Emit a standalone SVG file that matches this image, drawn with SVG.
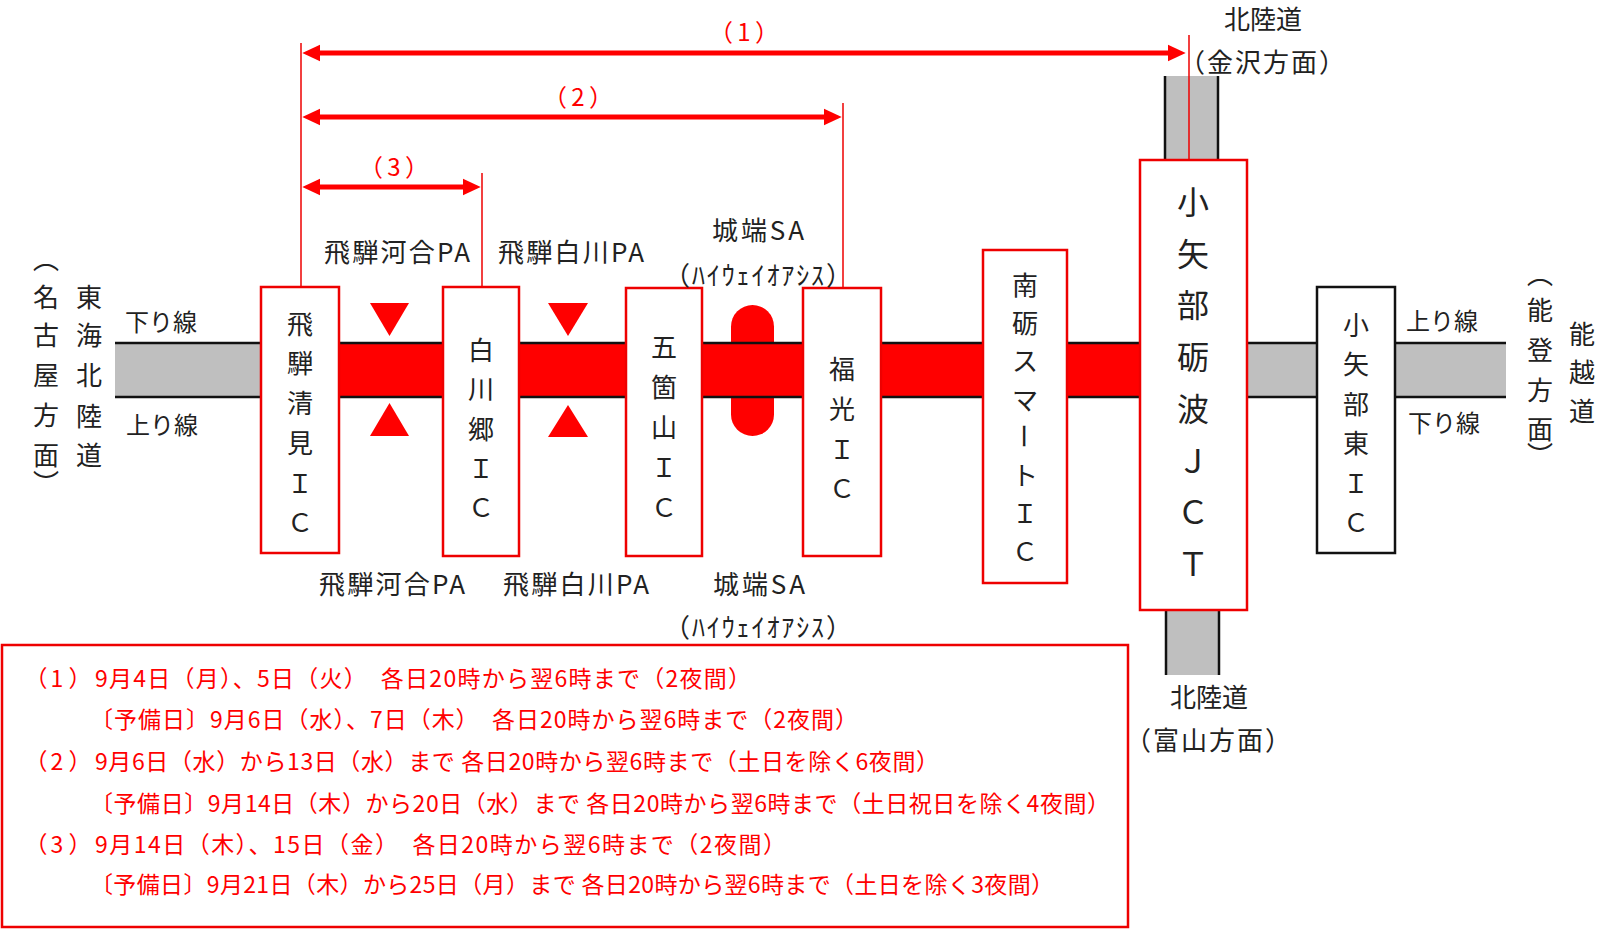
<svg xmlns="http://www.w3.org/2000/svg" width="1600" height="932" viewBox="0 0 1600 932">
<style>
text{font-family:"Noto Sans CJK JP","Noto Sans",sans-serif;fill:#222}
.v{font-size:26px;text-anchor:middle;dominant-baseline:central}
.vj{font-size:32px;text-anchor:middle;dominant-baseline:central}
.lbl{font-size:26px;text-anchor:middle;dominant-baseline:central}
.dir{font-size:24px;dominant-baseline:central}
.num{font-size:24px;text-anchor:middle;dominant-baseline:central;fill:#f00}
.leg{font-size:23px;dominant-baseline:central;fill:#f00}
.legn{font-size:23px;text-anchor:middle;dominant-baseline:central;fill:#f00}
.box{fill:#fff;stroke:#e00;stroke-width:2.5}
.boxk{fill:#fff;stroke:#111;stroke-width:2.5}
.gray{fill:#bfbfbf}
.edge{stroke:#111;stroke-width:2.5;fill:none}
.lead{stroke:#e00;stroke-width:1.5;fill:none}
.arr{stroke:#f00;stroke-width:5;fill:none;marker-start:url(#ah);marker-end:url(#ah)}
</style>
<defs>
<marker id="ah" markerUnits="userSpaceOnUse" markerWidth="18" markerHeight="18" viewBox="0 0 17 16" refX="5" refY="8" orient="auto-start-reverse"><path d="M0,0 L17,8 L0,16 z" fill="#f00"/></marker>
</defs>

<g id="roads">
<rect class="gray" x="115" y="343" width="150" height="54"/>
<rect x="335" y="343" width="810" height="54" fill="#f00"/>
<rect class="gray" x="1243" y="343" width="263" height="54"/>
<rect class="gray" x="1165" y="76" width="53" height="86"/>
<line class="edge" x1="1165" y1="76" x2="1165" y2="162"/>
<line class="edge" x1="1218" y1="76" x2="1218" y2="162"/>
<rect class="gray" x="1166" y="608" width="53" height="67"/>
<line class="edge" x1="1166" y1="608" x2="1166" y2="675"/>
<line class="edge" x1="1219" y1="608" x2="1219" y2="675"/>
<rect x="731" y="305" width="43" height="131" rx="21.5" fill="#f00"/>
<line class="edge" x1="115" y1="343" x2="1506" y2="343"/>
<line class="edge" x1="115" y1="397" x2="1506" y2="397"/>
</g>

<g id="pa-marks" fill="#f00">
<polygon points="370,303 409,303 389.5,336"/>
<polygon points="370,436 409,436 389.5,403"/>
<polygon points="548,303 588,303 568,336"/>
<polygon points="548,437 588,437 568,405"/>
</g>

<g id="connectors">
<line class="lead" x1="301" y1="43" x2="301" y2="287"/>
<line class="lead" x1="482" y1="173" x2="482" y2="287"/>
<line class="lead" x1="843" y1="103" x2="843" y2="288"/>
<line class="lead" x1="1189" y1="35" x2="1189" y2="162"/>
<line class="arr" x1="315" y1="53" x2="1173" y2="53"/>
<line class="arr" x1="315" y1="117" x2="829" y2="117"/>
<line class="arr" x1="315" y1="187" x2="468" y2="187"/>
<text class="num" y="30"><tspan x="721">（</tspan><tspan x="744">1</tspan><tspan x="767">）</tspan></text>
<text class="num" y="95"><tspan x="555">（</tspan><tspan x="578">2</tspan><tspan x="601">）</tspan></text>
<text class="num" y="165"><tspan x="371">（</tspan><tspan x="394">3</tspan><tspan x="417">）</tspan></text>
</g>

<g id="ic-hida-kiyomi">
<rect class="box" x="261" y="287" width="78" height="266"/>
<text class="v" x="300" y="322">飛</text><text class="v" x="300" y="361">騨</text><text class="v" x="300" y="401">清</text><text class="v" x="300" y="441">見</text><text class="v" x="300" y="481">Ｉ</text><text class="v" x="300" y="520">Ｃ</text>
</g>
<g id="ic-shirakawago">
<rect class="box" x="443" y="287" width="76" height="269"/>
<text class="v" x="481" y="348">白</text><text class="v" x="481" y="387">川</text><text class="v" x="481" y="427">郷</text><text class="v" x="481" y="466">Ｉ</text><text class="v" x="481" y="505">Ｃ</text>
</g>
<g id="ic-gokayama">
<rect class="box" x="626" y="288" width="76" height="268"/>
<text class="v" x="664" y="345">五</text><text class="v" x="664" y="385">箇</text><text class="v" x="664" y="425">山</text><text class="v" x="664" y="465">Ｉ</text><text class="v" x="664" y="505">Ｃ</text>
</g>
<g id="ic-fukumitsu">
<rect class="box" x="803" y="288" width="78" height="268"/>
<text class="v" x="842" y="367">福</text><text class="v" x="842" y="407">光</text><text class="v" x="842" y="447">Ｉ</text><text class="v" x="842" y="486">Ｃ</text>
</g>
<g id="ic-nanto-smart">
<rect class="box" x="983" y="250" width="84" height="333"/>
<text class="v" x="1025" y="283">南</text><text class="v" x="1025" y="321">砺</text><text class="v" x="1025" y="359">ス</text><text class="v" x="1025" y="398">マ</text><text class="v" x="1025" y="436" transform="rotate(90 1025 436)">ー</text><text class="v" x="1025" y="473">ト</text><text class="v" x="1025" y="511">Ｉ</text><text class="v" x="1025" y="549">Ｃ</text>
</g>
<g id="jct-oyabe-tonami">
<rect class="box" x="1140" y="160" width="107" height="450"/>
<text class="vj" x="1193" y="200">小</text><text class="vj" x="1193" y="252">矢</text><text class="vj" x="1193" y="303">部</text><text class="vj" x="1193" y="355">砺</text><text class="vj" x="1193" y="407">波</text><text class="vj" x="1193" y="459">Ｊ</text><text class="vj" x="1193" y="510">Ｃ</text><text class="vj" x="1193" y="562">Ｔ</text>
</g>
<g id="ic-oyabe-higashi">
<rect class="boxk" x="1317" y="287" width="78" height="266"/>
<text class="v" x="1356" y="323">小</text><text class="v" x="1356" y="362">矢</text><text class="v" x="1356" y="402">部</text><text class="v" x="1356" y="441">東</text><text class="v" x="1356" y="481">Ｉ</text><text class="v" x="1356" y="520">Ｃ</text>
</g>

<g id="labels">
<text class="v" x="89" y="295">東</text><text class="v" x="89" y="333">海</text><text class="v" x="89" y="373">北</text><text class="v" x="89" y="414">陸</text><text class="v" x="89" y="453">道</text>
<text class="v" x="46" y="257">︵</text><text class="v" x="46" y="295">名</text><text class="v" x="46" y="333">古</text><text class="v" x="46" y="373">屋</text><text class="v" x="46" y="413">方</text><text class="v" x="46" y="453">面</text><text class="v" x="46" y="481">︶</text>
<text class="v" x="1540" y="272">︵</text><text class="v" x="1540" y="308">能</text><text class="v" x="1540" y="348">登</text><text class="v" x="1540" y="388">方</text><text class="v" x="1540" y="427">面</text><text class="v" x="1540" y="453">︶</text>
<text class="v" x="1582" y="332">能</text><text class="v" x="1582" y="370">越</text><text class="v" x="1582" y="409">道</text>
<text class="dir" x="125" y="320">下り線</text>
<text class="dir" x="126" y="423">上り線</text>
<text class="dir" x="1406" y="319">上り線</text>
<text class="dir" x="1408" y="421">下り線</text>
<text class="lbl" x="1263" y="17">北陸道</text>
<text class="lbl" x="1262" y="60" font-size="24" textLength="166" lengthAdjust="spacing">（金沢方面）</text>
<text class="lbl" x="1209" y="695">北陸道</text>
<text class="lbl" x="1208" y="738" font-size="24" textLength="166" lengthAdjust="spacing">（富山方面）</text>
<text class="lbl" x="397" y="250" textLength="146">飛騨河合PA</text>
<text class="lbl" x="571" y="250" textLength="146">飛騨白川PA</text>
<text class="lbl" x="758" y="228" textLength="92">城端SA</text>
<text class="lbl" x="758" y="273" font-size="24" textLength="188" lengthAdjust="spacing">（ﾊｲｳｪｲｵｱｼｽ）</text>
<text class="lbl" x="392" y="582" textLength="146">飛騨河合PA</text>
<text class="lbl" x="576" y="582" textLength="146">飛騨白川PA</text>
<text class="lbl" x="759" y="582" textLength="92">城端SA</text>
<text class="lbl" x="758" y="625" font-size="24" textLength="188" lengthAdjust="spacing">（ﾊｲｳｪｲｵｱｼｽ）</text>
</g>

<g id="legend">
<rect x="2" y="645" width="1126" height="282" fill="none" stroke="#e00" stroke-width="2.5"/>
<text class="legn" y="677"><tspan x="36">（</tspan><tspan x="57">1</tspan><tspan x="80">）</tspan></text>
<text class="leg" x="95" y="677" textLength="656" lengthAdjust="spacing">9月4日（月）、5日（火）　各日20時から翌6時まで（2夜間）</text>
<text class="leg" x="90" y="718" textLength="768" lengthAdjust="spacing">〔予備日〕9月6日（水）、7日（木）　各日20時から翌6時まで（2夜間）</text>
<text class="legn" y="760"><tspan x="36">（</tspan><tspan x="57">2</tspan><tspan x="80">）</tspan></text>
<text class="leg" x="95" y="760" textLength="844" lengthAdjust="spacing">9月6日（水）から13日（水）まで 各日20時から翌6時まで（土日を除く6夜間）</text>
<text class="leg" x="90" y="802" textLength="1020" lengthAdjust="spacing">〔予備日〕9月14日（木）から20日（水）まで 各日20時から翌6時まで（土日祝日を除く4夜間）</text>
<text class="legn" y="843"><tspan x="36">（</tspan><tspan x="57">3</tspan><tspan x="80">）</tspan></text>
<text class="leg" x="95" y="843" textLength="691" lengthAdjust="spacing">9月14日（木）、15日（金）　各日20時から翌6時まで（2夜間）</text>
<text class="leg" x="90" y="883" textLength="964" lengthAdjust="spacing">〔予備日〕9月21日（木）から25日（月）まで 各日20時から翌6時まで（土日を除く3夜間）</text>
</g>
</svg>
